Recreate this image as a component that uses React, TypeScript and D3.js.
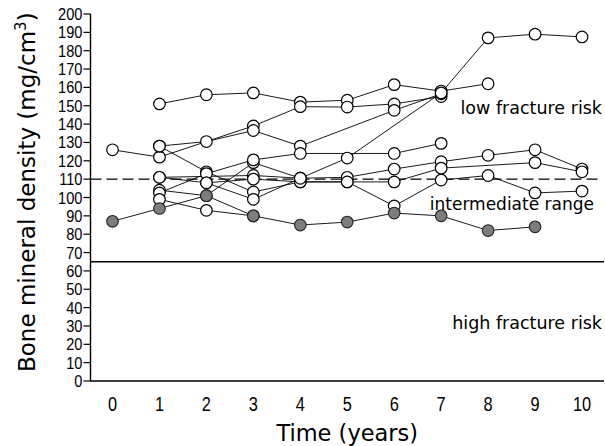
import React from "react";
import * as d3 from "d3";

// bone mineral density (mg/cm3) by year, one array per patient: [year, value]
const yearTicks = [0, 1, 2, 3, 4, 5, 6, 7, 8, 9, 10];
const bmdTicks = d3.range(0, 201, 10);

const patientA = [[1, 151], [2, 156], [3, 157], [4, 152], [5, 153], [6, 161.5], [7, 158], [8, 162]];
const patientB = [[0, 126], [1, 122], [3, 139], [4, 149.5], [5, 149.3], [6, 151], [7, 155]];
const patientC = [[1, 128], [2, 130.5], [3, 136.5], [4, 128], [6, 147.5], [7, 156.5]];
const patientD = [[1, 128], [2, 114], [3, 103], [4, 108.5], [5, 108.5], [6, 95.4], [7, 109.5], [8, 112], [9, 102.5], [10, 103.5]];
const patientE = [[1, 104], [2, 101], [3, 119], [4, 110.5], [5, 121.5], [7, 157], [8, 187], [9, 189], [10, 187.5]];
const patientF = [[1, 102.5], [2, 113], [3, 120.5], [4, 124], [6, 124], [7, 129.5]];
const patientG = [[1, 111], [3, 112], [4, 110.5], [5, 111], [6, 115.5], [7, 119.5], [8, 123], [9, 126], [10, 115.5]];
const patientH = [[2, 108], [3, 110], [4, 108.5], [5, 108.5], [6, 108.5], [7, 116], [9, 119], [10, 114]];
const patientI = [[1, 99], [2, 93], [3, 90]];
const patientJ = [[1, 111], [2, 108], [3, 99], [4, 110.5]];
// filled markers
const patientGrey = [[0, 87], [1, 94], [2, 101], [3, 90], [4, 85], [5, 86.6], [6, 91.5], [7, 90], [8, 82], [9, 84]];

const openPatients = [patientA, patientB, patientC, patientD, patientE, patientF, patientG, patientH, patientI, patientJ];

const intermediateLimit = 110;
const highRiskLimit = 65;

const W = 605;
const H = 446;
const axisX = 90.5;
const axisRight = 604;

export default function App() {
  const x = d3.scaleLinear().domain([0, 10]).range([112.5, 582]);
  const y = d3.scaleLinear().domain([0, 200]).range([381, 14]);

  const line = d3.line<number[]>()
    .x((d) => x(d[0]))
    .y((d) => y(d[1]));

  const tickFont = "'Liberation Sans', Arial, sans-serif";
  const labelFont = "'DejaVu Sans', sans-serif";

  return (
    <svg width={W} height={H} style={{ position: "absolute", left: 0, top: 0, background: "#fff" }}>
      {/* reference lines */}
      <line x1={axisX} x2={axisRight - 4} y1={y(intermediateLimit)} y2={y(intermediateLimit)}
        stroke="#000" strokeWidth={1.2} strokeDasharray="11,5" />
      <line x1={axisX} x2={axisRight} y1={y(highRiskLimit)} y2={y(highRiskLimit)}
        stroke="#000" strokeWidth={1.3} />

      {/* axes */}
      <line x1={axisX} x2={axisX} y1={y(0)} y2={y(200)} stroke="#000" strokeWidth={1.4} />
      <line x1={axisX} x2={axisRight} y1={y(0)} y2={y(0)} stroke="#000" strokeWidth={1.4} />
      {bmdTicks.map((t) => (
        <g key={t}>
          <line x1={axisX - 7} x2={axisX} y1={y(t)} y2={y(t)} stroke="#000" strokeWidth={1.2} />
          <g transform={`translate(${axisX - 8},${y(t) + 6}) scale(0.86,1)`}>
            <text textAnchor="end" fontFamily={tickFont} fontSize={17}>{t}</text>
          </g>
        </g>
      ))}
      {yearTicks.map((t) => (
        <g key={t} transform={`translate(${x(t)},${y(0) + 30}) scale(0.84,1)`}>
          <text textAnchor="middle" fontFamily={tickFont} fontSize={19.5}>{t}</text>
        </g>
      ))}

      {/* axis titles */}
      <text x={(x(0) + x(10)) / 2} y={441} textAnchor="middle" fontFamily={labelFont} fontSize={22.5}>
        Time (years)
      </text>
      <text transform={`translate(35,${372}) rotate(-90)`} fontFamily={labelFont} fontSize={23}>
        Bone mineral density (mg/cm<tspan dy={-9} fontSize={15}>3</tspan><tspan dy={9}>)</tspan>
      </text>

      {/* region labels */}
      <text x={602} y={114} textAnchor="end" fontFamily={labelFont} fontSize={17.5}>low fracture risk</text>
      <text x={594} y={210} textAnchor="end" fontFamily={labelFont} fontSize={17}>intermediate range</text>
      <text x={602} y={329} textAnchor="end" fontFamily={labelFont} fontSize={17.5}>high fracture risk</text>

      {/* patient lines */}
      {[...openPatients, patientGrey].map((p, i) => (
        <path key={i} d={line(p) || ""} fill="none" stroke="#000" strokeWidth={0.9} />
      ))}

      {/* markers */}
      {openPatients.map((p, i) =>
        p.map((d, j) => (
          <circle key={`${i}-${j}`} cx={x(d[0])} cy={y(d[1])} r={5.8} fill="#fff" stroke="#000" strokeWidth={1.2} />
        ))
      )}
      {patientGrey.map((d, j) => (
        <circle key={`g-${j}`} cx={x(d[0])} cy={y(d[1])} r={5.8} fill="#7d7d7d" stroke="#222" strokeWidth={1.1} />
      ))}
    </svg>
  );
}
